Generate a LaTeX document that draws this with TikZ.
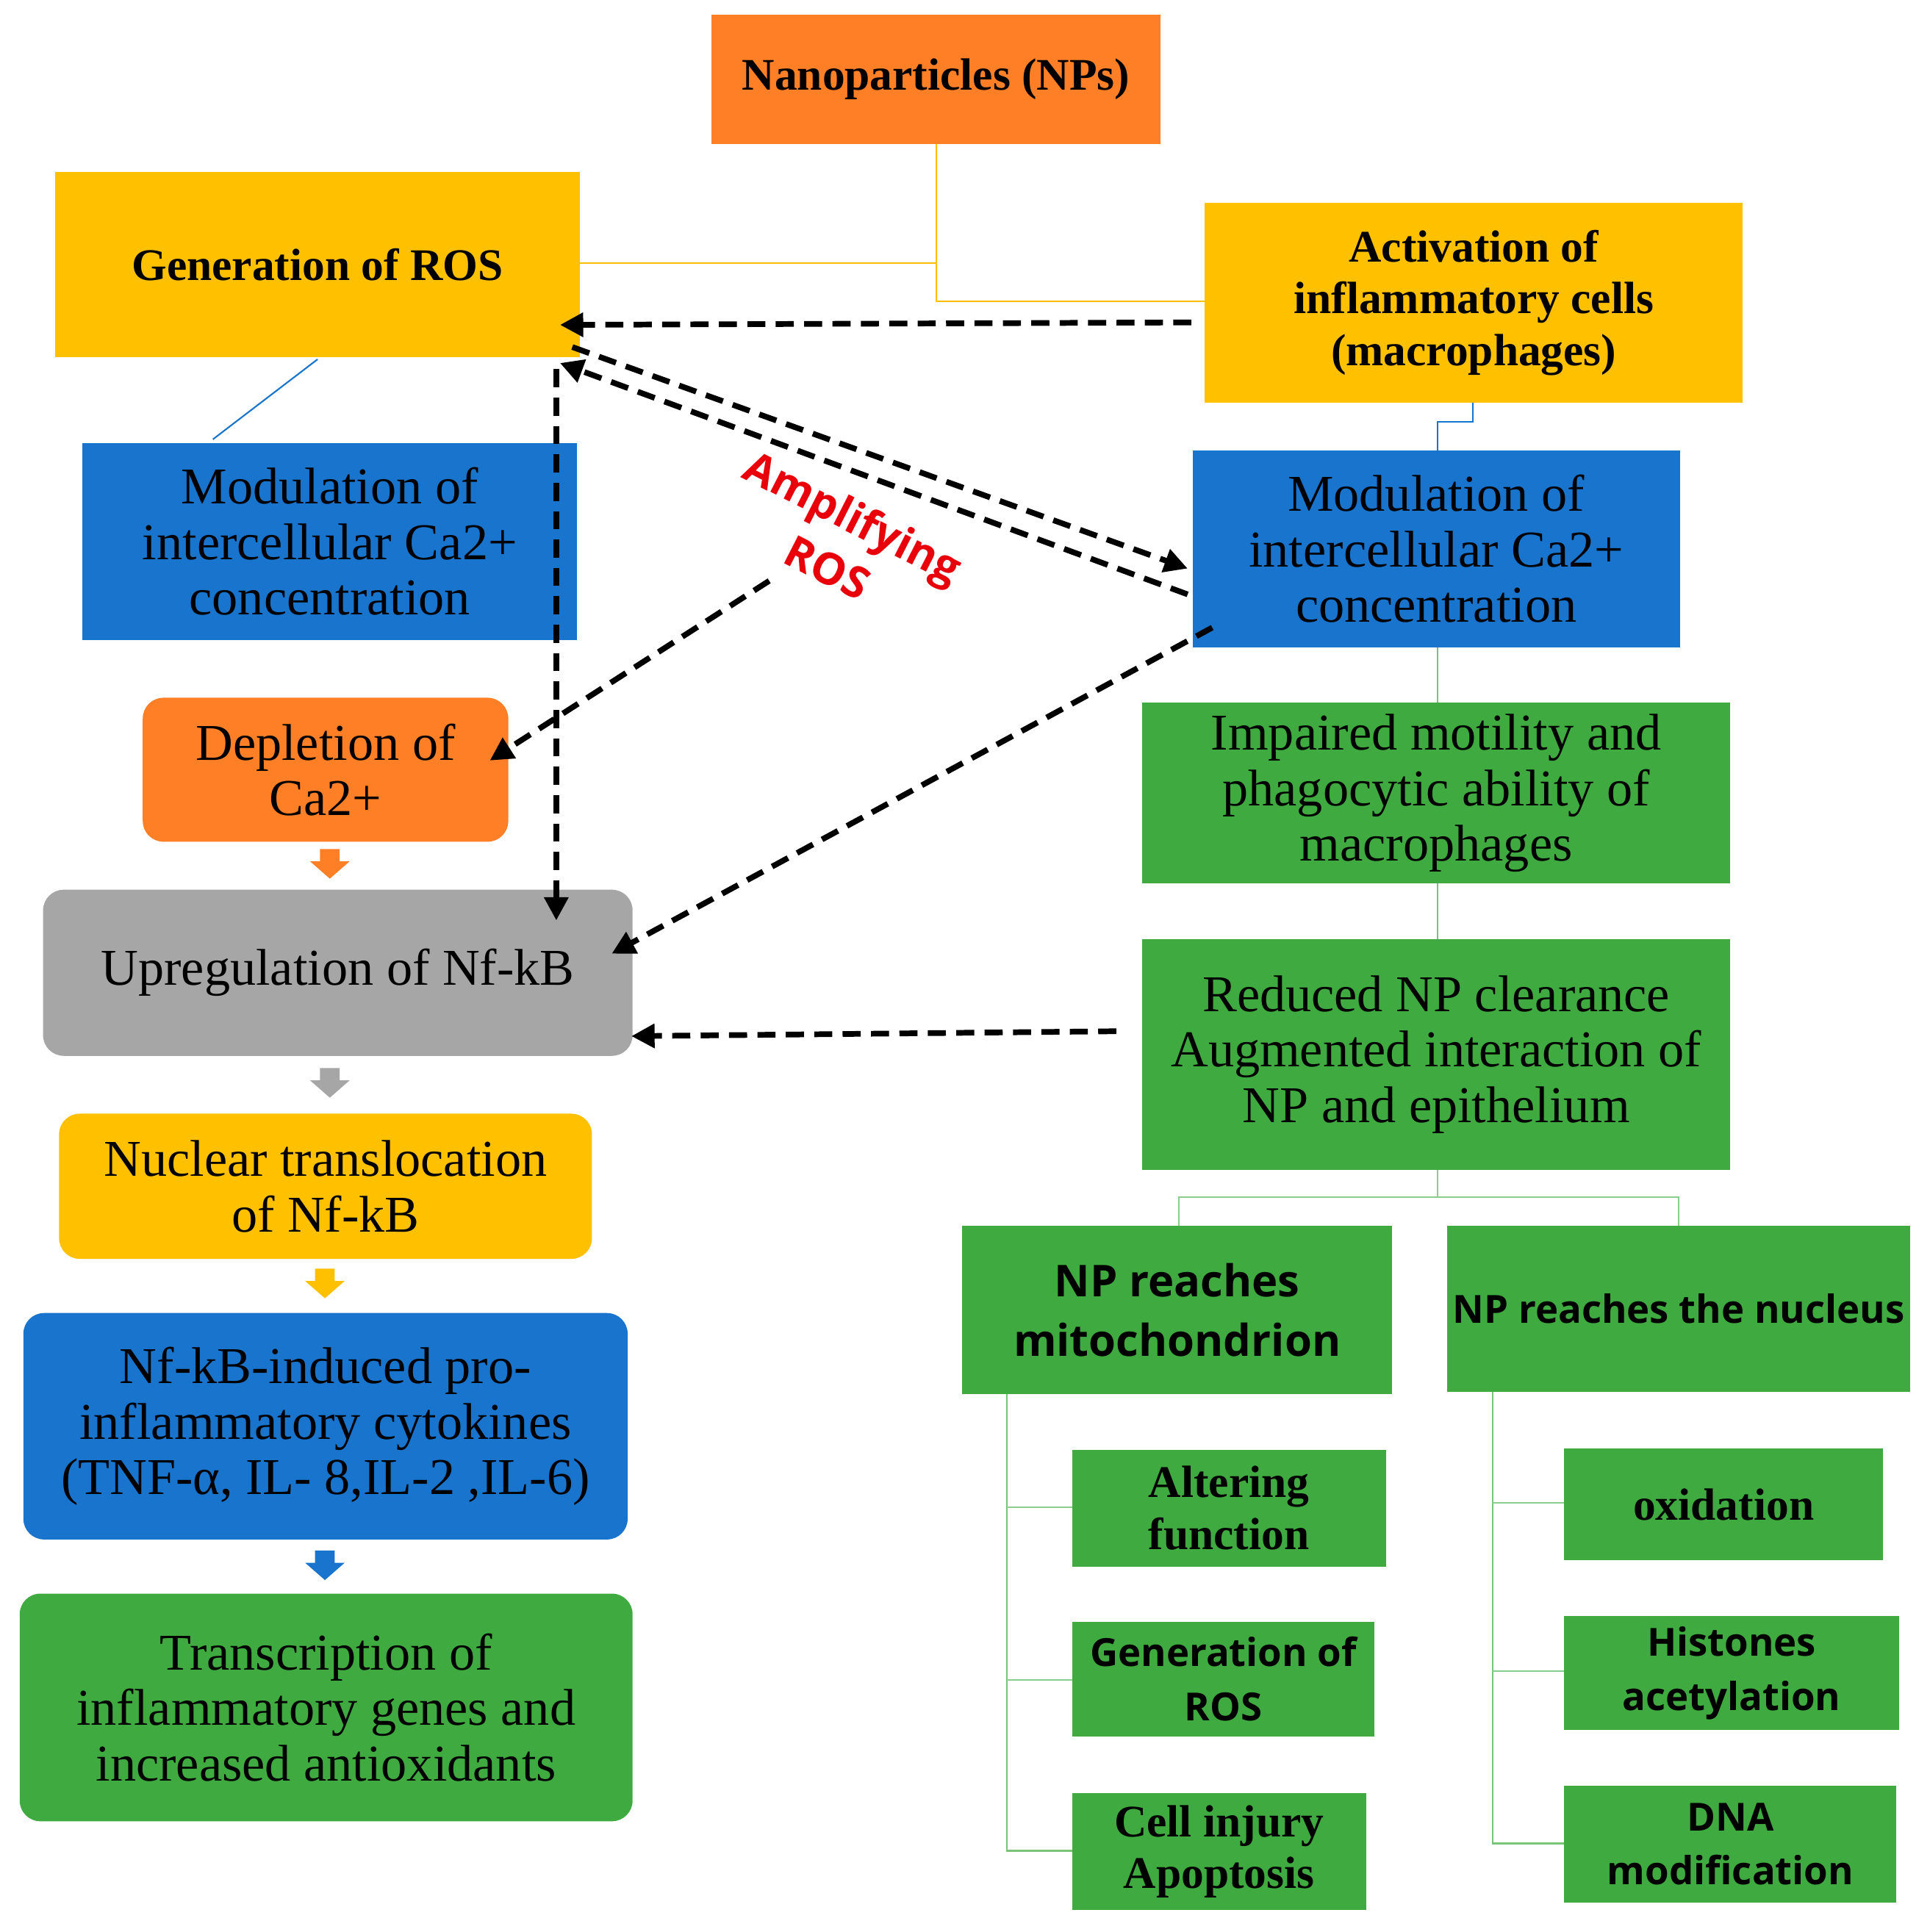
\documentclass[tikz,border=0pt]{standalone}
\usepackage{fontspec}
\setmainfont{Liberation Serif}
\newfontfamily\osans{Open Sans}
\usetikzlibrary{arrows.meta}
\definecolor{cor}{HTML}{FF7F27}
\definecolor{cye}{HTML}{FFC000}
\definecolor{cbl}{HTML}{1874CD}
\definecolor{cgr}{HTML}{3FAA3F}
\definecolor{cgy}{HTML}{A6A6A6}
\definecolor{cred}{HTML}{E8000B}
\tikzset{
 bx/.style={draw=none,align=center,inner sep=0pt},
 srf/.style={font=\fontsize{20}{21.5}\selectfont},
 bsrf/.style={font=\bfseries\fontsize{17.5}{20}\selectfont},
 bsans/.style={font=\osans\bfseries\fontsize{15}{21}\selectfont},
 dsh/.style={line width=2.2pt,dash pattern=on 7pt off 4pt,-{Triangle[length=9pt,width=9pt]}},
 ln/.style={line width=0.6pt},
}
\newcommand{\bbox}[7]{\fill[#6,rounded corners=#7] (#1,#2) rectangle (#3,#4); \node[bx,#5] at ({(#1+#3)/2},{(#2+#4)/2})}
\newcommand{\blk}[3]{\fill[#3] (#1-8,#2) -- (#1+8,#2) -- (#1+8,#2+10) -- (#1+16,#2+10) -- (#1,#2+24) -- (#1-16,#2+10) -- (#1-8,#2+10) -- cycle;}
\begin{document}
\begin{tikzpicture}[x=0.016747cm,y=-0.016747cm]
\useasboundingbox (0,0) rectangle (1568,1570);
\fill[white] (0,0) rectangle (1568,1570);
% lines
\draw[ln,cye] (761,117) -- (761,245) -- (979,245);
\draw[ln,cye] (471,214) -- (761,214);
\draw[ln,cbl] (258,292) -- (173,357);
\draw[ln,cbl] (1197,327) -- (1197,343) -- (1168,343) -- (1168,366);
\draw[ln,cgr!70] (1168,526) -- (1168,571);
\draw[ln,cgr!70] (1168,718) -- (1168,763);
\draw[ln,cgr!60] (1168,951) -- (1168,973);
\draw[ln,cgr!60] (958,996) -- (958,973) -- (1364,973) -- (1364,996);
\draw[ln,cgr!70] (818,1133) -- (818,1504) -- (871,1504);
\draw[ln,cgr!60] (818,1225) -- (871,1225) (818,1365) -- (871,1365);
\draw[ln,cgr!70] (1213,1131) -- (1213,1498) -- (1271,1498);
\draw[ln,cgr!60] (1213,1221) -- (1271,1221) (1213,1358) -- (1271,1358);
% boxes
\bbox{578}{12}{943}{117}{bsrf}{cor}{0pt} (np) {Nanoparticles (NPs)};
\bbox{45}{140}{471}{290}{bsrf}{cye}{0pt} (ros) {Generation of ROS};
\bbox{979}{165}{1416}{327}{bsrf}{cye}{0pt} (act) {Activation of\\inflammatory cells\\(macrophages)};
\bbox{67}{360}{469}{520}{srf}{cbl}{0pt} (mcl) {Modulation of\\intercellular Ca2+\\concentration};
\bbox{969}{366}{1365}{526}{srf}{cbl}{0pt} (mcr) {Modulation of\\intercellular Ca2+\\concentration};
\bbox{116}{567}{413}{684}{srf}{cor}{8pt} (dep) {Depletion of\\Ca2+};
\bbox{35}{723}{514}{858}{srf}{cgy}{8pt} (up) {Upregulation of Nf-kB};
\bbox{48}{905}{481}{1023}{srf}{cye}{8pt} (nuc) {Nuclear translocation\\of Nf-kB};
\bbox{19}{1067}{510}{1251}{srf}{cbl}{8pt} (nfk) {Nf-kB-induced pro-\\inflammatory cytokines\\(TNF-α, IL- 8,IL-2 ,IL-6)};
\bbox{16}{1295}{514}{1480}{srf}{cgr}{8pt} (tr) {Transcription of\\inflammatory genes and\\increased antioxidants};
\bbox{928}{571}{1406}{718}{srf}{cgr}{0pt} (imp) {Impaired motility and\\phagocytic ability of\\macrophages};
\bbox{928}{763}{1406}{951}{srf}{cgr}{0pt} (red) {Reduced NP clearance\\Augmented interaction of\\NP and epithelium};
\bbox{782}{996}{1131}{1133}{bsans,font=\osans\bfseries\fontsize{17}{23}\selectfont}{cgr}{0pt} (mit) {NP reaches\\mitochondrion};
\bbox{1176}{996}{1552}{1131}{bsans}{cgr}{0pt} (nucl) {NP reaches the nucleus};
\bbox{871}{1178}{1126}{1273}{bsrf}{cgr}{0pt} (alt) {Altering\\function};
\bbox{871}{1318}{1117}{1411}{bsans}{cgr}{0pt} (gr2) {Generation of\\ROS};
\bbox{871}{1457}{1110}{1552}{bsrf}{cgr}{0pt} (ci) {Cell injury\\Apoptosis};
\bbox{1271}{1177}{1530}{1268}{bsrf}{cgr}{0pt} (ox) {oxidation};
\bbox{1271}{1313}{1543}{1406}{bsans}{cgr}{0pt} (his) {Histones\\acetylation};
\bbox{1271}{1451}{1541}{1546}{bsans}{cgr}{0pt} (dna) {DNA\\modification};
% block arrows
\blk{268}{690}{cor}
\blk{268}{868}{cgy}
\blk{264}{1031}{cye}
\blk{264}{1260}{cbl}
% dashed
\coordinate (a1) at (968,262); \coordinate (a2) at (455,264);
\draw[dsh] (a1) -- (a2);
\coordinate (b1) at (465,282); \coordinate (b2) at (965,462);
\draw[dsh] (b1) -- (b2);
\coordinate (c1) at (965,483); \coordinate (c2) at (455,295);
\draw[dsh] (c1) -- (c2);
\coordinate (d1) at (452,300); \coordinate (d2) at (452,748);
\draw[dsh] (d1) -- (d2);
\coordinate (e1) at (625,472); \coordinate (e2) at (398,618);
\draw[dsh] (e1) -- (e2);
\coordinate (f1) at (985,510); \coordinate (f2) at (497,775);
\draw[dsh] (f1) -- (f2);
\coordinate (g1) at (907,838); \coordinate (g2) at (513,842);
\draw[dsh] (g1) -- (g2);
\node[text=cred,font=\osans\bfseries\fontsize{17}{22}\selectfont,align=center,rotate=-27] (amp) at (683,440) {Amplifying\\ROS};
\end{tikzpicture}
\end{document}
